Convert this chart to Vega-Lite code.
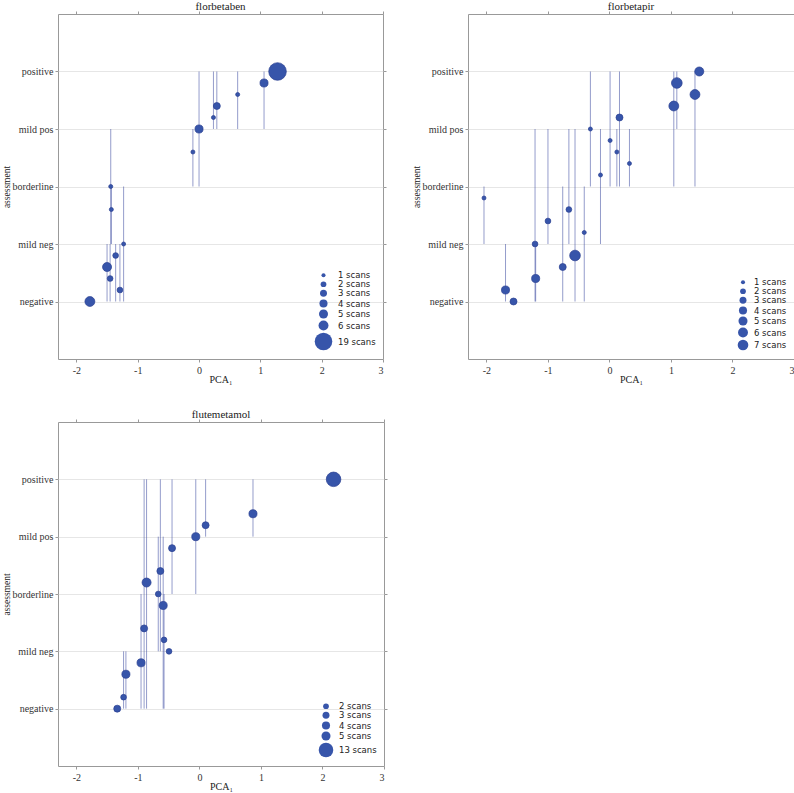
{
  "$schema": "https://vega.github.io/schema/vega-lite/v6.json",
  "padding": 0,
  "background": "white",
  "datasets": {
    "florbetaben": [
      {"pca": 1.28, "pos": 4.0, "lo": 4, "hi": 4, "scans": 19},
      {"pca": 1.06, "pos": 3.8, "lo": 3, "hi": 4, "scans": 4},
      {"pca": 0.63, "pos": 3.6, "lo": 3, "hi": 4, "scans": 1},
      {"pca": 0.29, "pos": 3.4, "lo": 3, "hi": 4, "scans": 3},
      {"pca": 0.235, "pos": 3.2, "lo": 3, "hi": 4, "scans": 1},
      {"pca": 0.0, "pos": 3.0, "lo": 2, "hi": 4, "scans": 4},
      {"pca": -0.1, "pos": 2.6, "lo": 2, "hi": 3, "scans": 1},
      {"pca": -1.44, "pos": 2.0, "lo": 1, "hi": 3, "scans": 1},
      {"pca": -1.43, "pos": 1.6, "lo": 1, "hi": 2, "scans": 1},
      {"pca": -1.23, "pos": 1.0, "lo": 0, "hi": 2, "scans": 1},
      {"pca": -1.36, "pos": 0.8, "lo": 0, "hi": 1, "scans": 2},
      {"pca": -1.5, "pos": 0.6, "lo": 0, "hi": 1, "scans": 5},
      {"pca": -1.45, "pos": 0.4, "lo": 0, "hi": 1, "scans": 2},
      {"pca": -1.29, "pos": 0.2, "lo": 0, "hi": 1, "scans": 2},
      {"pca": -1.78, "pos": 0.0, "lo": 0, "hi": 0, "scans": 6}
    ],
    "florbetapir": [
      {"pca": 1.46, "pos": 4.0, "lo": 4, "hi": 4, "scans": 5},
      {"pca": 1.095, "pos": 3.8, "lo": 3, "hi": 4, "scans": 7},
      {"pca": 1.39, "pos": 3.6, "lo": 2, "hi": 4, "scans": 6},
      {"pca": 1.046, "pos": 3.4, "lo": 2, "hi": 4, "scans": 6},
      {"pca": 0.163, "pos": 3.2, "lo": 2, "hi": 4, "scans": 3},
      {"pca": -0.31, "pos": 3.0, "lo": 2, "hi": 4, "scans": 1},
      {"pca": 0.01, "pos": 2.8, "lo": 2, "hi": 4, "scans": 1},
      {"pca": 0.12, "pos": 2.6, "lo": 2, "hi": 3, "scans": 1},
      {"pca": 0.325, "pos": 2.4, "lo": 2, "hi": 3, "scans": 1},
      {"pca": -0.146, "pos": 2.2, "lo": 1, "hi": 3, "scans": 1},
      {"pca": -2.04, "pos": 1.8, "lo": 1, "hi": 2, "scans": 1},
      {"pca": -0.66, "pos": 1.6, "lo": 1, "hi": 3, "scans": 2},
      {"pca": -1.0, "pos": 1.4, "lo": 1, "hi": 3, "scans": 2},
      {"pca": -0.41, "pos": 1.2, "lo": 0, "hi": 2, "scans": 1},
      {"pca": -1.21, "pos": 1.0, "lo": 0, "hi": 3, "scans": 2},
      {"pca": -0.56, "pos": 0.8, "lo": 0, "hi": 3, "scans": 7},
      {"pca": -0.76, "pos": 0.6, "lo": 0, "hi": 2, "scans": 3},
      {"pca": -1.2, "pos": 0.4, "lo": 0, "hi": 1, "scans": 4},
      {"pca": -1.69, "pos": 0.2, "lo": 0, "hi": 1, "scans": 4},
      {"pca": -1.56, "pos": 0.0, "lo": 0, "hi": 0, "scans": 3}
    ],
    "flutemetamol": [
      {"pca": 2.18, "pos": 4.0, "lo": 4, "hi": 4, "scans": 13},
      {"pca": 0.87, "pos": 3.4, "lo": 3, "hi": 4, "scans": 4},
      {"pca": 0.1, "pos": 3.2, "lo": 3, "hi": 4, "scans": 3},
      {"pca": -0.06, "pos": 3.0, "lo": 2, "hi": 4, "scans": 4},
      {"pca": -0.446, "pos": 2.8, "lo": 2, "hi": 4, "scans": 3},
      {"pca": -0.636, "pos": 2.4, "lo": 1, "hi": 4, "scans": 3},
      {"pca": -0.86, "pos": 2.2, "lo": 0, "hi": 4, "scans": 5},
      {"pca": -0.67, "pos": 2.0, "lo": 1, "hi": 3, "scans": 2},
      {"pca": -0.59, "pos": 1.8, "lo": 0, "hi": 3, "scans": 4},
      {"pca": -0.9, "pos": 1.4, "lo": 0, "hi": 4, "scans": 3},
      {"pca": -0.576, "pos": 1.2, "lo": 0, "hi": 2, "scans": 2},
      {"pca": -0.495, "pos": 1.0, "lo": 1, "hi": 1, "scans": 2},
      {"pca": -0.95, "pos": 0.8, "lo": 0, "hi": 2, "scans": 4},
      {"pca": -1.196, "pos": 0.6, "lo": 0, "hi": 1, "scans": 4},
      {"pca": -1.234, "pos": 0.2, "lo": 0, "hi": 1, "scans": 2},
      {"pca": -1.337, "pos": 0.0, "lo": 0, "hi": 0, "scans": 3}
    ]
  },
  "config": {
    "view": {"stroke": "#999999", "strokeWidth": 1},
    "axis": {
      "labelFont": "Liberation Serif", "labelFontSize": 10, "labelColor": "#333333",
      "titleFont": "Liberation Serif", "titleFontSize": 10, "titleColor": "#222222", "titleFontWeight": "normal",
      "tickColor": "#999999", "tickSize": 3, "domain": false, "grid": false, "labelPadding": 2
    },
    "title": {"font": "Liberation Serif", "fontSize": 11, "fontWeight": "normal", "color": "#222222", "offset": -1},
    "legend": {
      "orient": "bottom-right", "offset": 7, "padding": 0,
      "labelFont": "DejaVu Sans", "labelFontSize": 8.5, "labelColor": "#222222", "labelOffset": 5,
      "rowPadding": -3, "symbolFillColor": "#3755aa", "symbolStrokeColor": "#2a3f90",
      "symbolStrokeWidth": 0.7, "symbolOpacity": 1
    }
  },
  "spacing": 23,
  "resolve": {"scale": {"size": "independent", "x": "independent", "y": "independent"}, "legend": {"size": "independent"}},
  "vconcat": [
    {
      "spacing": 23,
      "resolve": {"scale": {"size": "independent", "x": "independent", "y": "independent"}, "legend": {"size": "independent"}},
      "hconcat": [
        {
          "title": "florbetaben",
          "width": 325, "height": 345,
          "data": {"name": "florbetaben"},
          "resolve": {"axis": {"x": "independent", "y": "independent"}},
          "layer": [
            {
              "transform": [{"filter": "datum.lo < datum.hi"}],
              "mark": {"type": "rule", "color": "#3c4aa0", "opacity": 0.55, "strokeWidth": 1},
              "encoding": {
                "x": {"field": "pca", "type": "quantitative", "scale": {"domain": [-2.3, 3], "nice": false, "zero": false},
                      "axis": {"orient": "bottom", "values": [-2, -1, 0, 1, 2, 3], "labelExpr": "'' + datum.value", "title": "PCA₁", "titlePadding": 0, "labelPadding": 3, "minExtent": 15, "maxExtent": 15}},
                "y": {"field": "lo", "type": "quantitative", "scale": {"domain": [-1, 5], "nice": false, "zero": false},
                      "axis": {"orient": "left", "values": [0, 1, 2, 3, 4], "labelExpr": "['negative','mild neg','borderline','mild pos','positive'][datum.value]", "grid": true, "gridColor": "#e6e6e6", "title": "assessment", "titleX": -52, "titleBaseline": "middle", "titleFontSize": 9.5}},
                "y2": {"field": "hi"}
              }
            },
            {
              "mark": {"type": "circle", "color": "#3755aa", "stroke": "#2a3f90", "strokeWidth": 0.7, "opacity": 1},
              "encoding": {
                "x": {"field": "pca", "type": "quantitative", "scale": {"domain": [-2.3, 3], "nice": false, "zero": false},
                      "axis": {"orient": "top", "values": [-2, -1, 0, 1, 2, 3], "labels": false, "labelPadding": 0, "title": null}},
                "y": {"field": "pos", "type": "quantitative", "scale": {"domain": [-1, 5], "nice": false, "zero": false},
                      "axis": {"orient": "right", "values": [0, 1, 2, 3, 4], "labels": false, "labelPadding": 0, "title": null}},
                "size": {"field": "scans", "type": "quantitative", "scale": {"type": "linear", "domain": [0, 19], "range": [0, 310], "zero": true},
                         "legend": {"values": [1, 2, 3, 4, 5, 6, 19], "labelExpr": "datum.label + ' scans'", "title": null}}
              }
            }
          ]
        },
        {
          "title": "florbetapir",
          "width": 326, "height": 345,
          "data": {"name": "florbetapir"},
          "resolve": {"axis": {"x": "independent", "y": "independent"}},
          "layer": [
            {
              "transform": [{"filter": "datum.lo < datum.hi"}],
              "mark": {"type": "rule", "color": "#3c4aa0", "opacity": 0.55, "strokeWidth": 1},
              "encoding": {
                "x": {"field": "pca", "type": "quantitative", "scale": {"domain": [-2.3, 3], "nice": false, "zero": false},
                      "axis": {"orient": "bottom", "values": [-2, -1, 0, 1, 2, 3], "labelExpr": "'' + datum.value", "title": "PCA₁", "titlePadding": 0, "labelPadding": 3, "minExtent": 15, "maxExtent": 15}},
                "y": {"field": "lo", "type": "quantitative", "scale": {"domain": [-1, 5], "nice": false, "zero": false},
                      "axis": {"orient": "left", "values": [0, 1, 2, 3, 4], "labelExpr": "['negative','mild neg','borderline','mild pos','positive'][datum.value]", "grid": true, "gridColor": "#e6e6e6", "title": "assessment", "titleX": -52, "titleBaseline": "middle", "titleFontSize": 9.5}},
                "y2": {"field": "hi"}
              }
            },
            {
              "mark": {"type": "circle", "color": "#3755aa", "stroke": "#2a3f90", "strokeWidth": 0.7, "opacity": 1},
              "encoding": {
                "x": {"field": "pca", "type": "quantitative", "scale": {"domain": [-2.3, 3], "nice": false, "zero": false},
                      "axis": {"orient": "top", "values": [-2, -1, 0, 1, 2, 3], "labels": false, "labelPadding": 0, "title": null}},
                "y": {"field": "pos", "type": "quantitative", "scale": {"domain": [-1, 5], "nice": false, "zero": false},
                      "axis": {"orient": "right", "values": [0, 1, 2, 3, 4], "labels": false, "labelPadding": 0, "title": null}},
                "size": {"field": "scans", "type": "quantitative", "scale": {"type": "linear", "domain": [0, 19], "range": [0, 310], "zero": true},
                         "legend": {"values": [1, 2, 3, 4, 5, 6, 7], "labelExpr": "datum.label + ' scans'", "title": null}}
              }
            }
          ]
        }
      ]
    },
    {
      "title": "flutemetamol",
      "width": 326, "height": 344,
      "data": {"name": "flutemetamol"},
      "resolve": {"axis": {"x": "independent", "y": "independent"}},
      "layer": [
        {
          "transform": [{"filter": "datum.lo < datum.hi"}],
          "mark": {"type": "rule", "color": "#3c4aa0", "opacity": 0.55, "strokeWidth": 1},
          "encoding": {
            "x": {"field": "pca", "type": "quantitative", "scale": {"domain": [-2.3, 3], "nice": false, "zero": false},
                  "axis": {"orient": "bottom", "values": [-2, -1, 0, 1, 2, 3], "labelExpr": "'' + datum.value", "title": "PCA₁", "titlePadding": 0, "labelPadding": 3, "minExtent": 15, "maxExtent": 15}},
            "y": {"field": "lo", "type": "quantitative", "scale": {"domain": [-1, 5], "nice": false, "zero": false},
                  "axis": {"orient": "left", "values": [0, 1, 2, 3, 4], "labelExpr": "['negative','mild neg','borderline','mild pos','positive'][datum.value]", "grid": true, "gridColor": "#e6e6e6", "title": "assessment", "titleX": -52, "titleBaseline": "middle", "titleFontSize": 9.5}},
            "y2": {"field": "hi"}
          }
        },
        {
          "mark": {"type": "circle", "color": "#3755aa", "stroke": "#2a3f90", "strokeWidth": 0.7, "opacity": 1},
          "encoding": {
            "x": {"field": "pca", "type": "quantitative", "scale": {"domain": [-2.3, 3], "nice": false, "zero": false},
                  "axis": {"orient": "top", "values": [-2, -1, 0, 1, 2, 3], "labels": false, "labelPadding": 0, "title": null}},
            "y": {"field": "pos", "type": "quantitative", "scale": {"domain": [-1, 5], "nice": false, "zero": false},
                  "axis": {"orient": "right", "values": [0, 1, 2, 3, 4], "labels": false, "labelPadding": 0, "title": null}},
            "size": {"field": "scans", "type": "quantitative", "scale": {"type": "linear", "domain": [0, 19], "range": [0, 310], "zero": true},
                     "legend": {"values": [2, 3, 4, 5, 13], "labelExpr": "datum.label + ' scans'", "title": null}}
          }
        }
      ]
    }
  ]
}
